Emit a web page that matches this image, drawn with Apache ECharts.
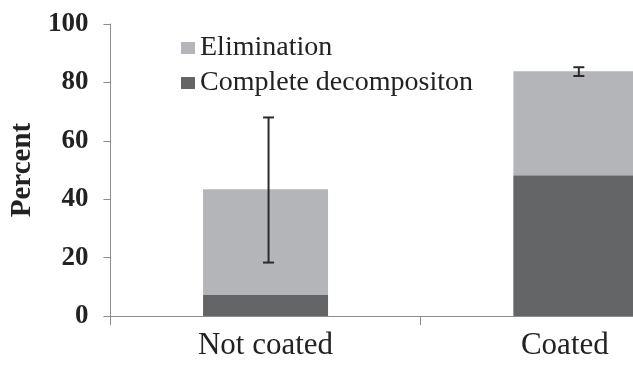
<!DOCTYPE html>
<html><head><meta charset="utf-8">
<script src="https://cdn.jsdelivr.net/npm/echarts@6/dist/echarts.min.js"></script>
<style>html,body{margin:0;padding:0;background:#fff;overflow:hidden}#c{width:731px;height:369px}</style>
</head><body><div id="c"></div>
<script>
var categories = ['Not coated', 'Coated'];
var completeDecomposition = [7.4, 48.2];
var elimination = [36.0, 35.6];
var errLow = [18.3, 82.2];
var errHigh = [68.0, 85.2];
var yTicks = [0, 20, 40, 60, 80, 100];

var chart = echarts.init(document.getElementById('c'));
var serif = '"Liberation Serif", "DejaVu Serif", serif';
chart.setOption({
  animation: false,
  backgroundColor: '#fff',
  grid: { left: 109, right: 0, top: 24, bottom: 53 },
  legend: {
    orient: 'vertical', left: 176, top: 29, itemGap: 7,
    itemWidth: 14, itemHeight: 12, icon: 'rect',
    textStyle: { fontFamily: serif, fontSize: 28, color: '#222' },
    data: ['Elimination', 'Complete decompositon']
  },
  xAxis: {
    type: 'category', data: categories,
    axisLine: { lineStyle: { color: '#8c8c8c', width: 1 } },
    axisTick: { show: true, length: 9, lineStyle: { color: '#8c8c8c' } },
    axisLabel: {
      fontFamily: serif, fontSize: 31, color: '#222', margin: 14,
      formatter: function (v, i) { return i === 1 ? '{s|' + v + '}' : v; },
      rich: { s: { fontFamily: serif, fontSize: 31, color: '#222', padding: [0, 22, 0, 0] } }
    }
  },
  yAxis: {
    type: 'value', min: yTicks[0], max: yTicks[yTicks.length - 1], interval: 20,
    name: 'Percent', nameLocation: 'middle', nameGap: 72,
    nameTextStyle: { fontFamily: serif, fontSize: 29, fontWeight: 'bold', color: '#222' },
    axisLine: { show: true, lineStyle: { color: '#8c8c8c', width: 1 } },
    axisTick: { show: true, length: 7, lineStyle: { color: '#8c8c8c' } },
    splitLine: { show: false },
    axisLabel: { fontFamily: serif, fontSize: 27, fontWeight: 'bold', color: '#222', margin: 22 }
  },
  series: [
    { name: 'Complete decompositon', type: 'bar', stack: 's', data: completeDecomposition,
      barWidth: 125, itemStyle: { color: '#646567' } },
    { name: 'Elimination', type: 'bar', stack: 's', data: elimination,
      barWidth: 125, itemStyle: { color: '#b4b5b8' } },
    { name: 'err', type: 'custom', z: 10,
      data: categories.map(function (c, i) { return [i, errLow[i], errHigh[i]]; }),
      renderItem: function (params, api) {
        var lo = api.coord([api.value(0), api.value(1)]);
        var hi = api.coord([api.value(0), api.value(2)]);
        var x = lo[0] + 3, w = 5.5;
        var st = { stroke: '#2b2b2b', lineWidth: 2 };
        return { type: 'group', children: [
          { type: 'line', shape: { x1: x, y1: lo[1], x2: x, y2: hi[1] }, style: st },
          { type: 'line', shape: { x1: x - w, y1: lo[1], x2: x + w, y2: lo[1] }, style: st },
          { type: 'line', shape: { x1: x - w, y1: hi[1], x2: x + w, y2: hi[1] }, style: st }
        ] };
      }
    }
  ]
});
</script></body></html>
